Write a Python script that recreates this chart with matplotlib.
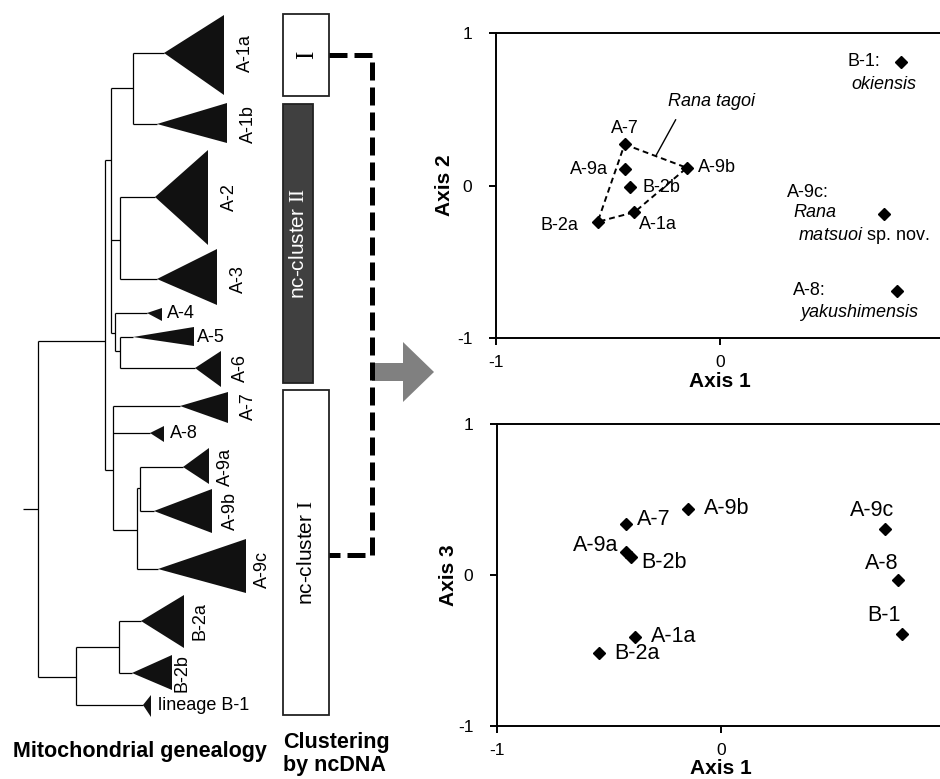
import numpy as np
import matplotlib
matplotlib.use('Agg')
import matplotlib.pyplot as plt
import matplotlib.patches as mpatches

plt.rcParams['font.family'] = ['Liberation Sans', 'DejaVu Sans']
plt.rcParams['mathtext.fontset'] = 'custom'
plt.rcParams['mathtext.rm'] = 'Liberation Sans'
plt.rcParams['mathtext.it'] = 'Liberation Sans:italic'
plt.rcParams['mathtext.sf'] = 'Liberation Serif'
plt.rcParams['axes.unicode_minus'] = False

# ordination scores of the lineages
lineages = ['A-1a', 'A-7', 'A-9a', 'A-9b', 'A-9c', 'A-8', 'B-1', 'B-2a', 'B-2b']
axis1 = [-0.382, -0.426, -0.424, -0.148, 0.733, 0.792, 0.809, -0.546, -0.404]
axis2 = [-0.175, 0.270, 0.105, 0.116, -0.186, -0.689, 0.810, -0.238, -0.010]
axis3 = [-0.408, 0.338, 0.154, 0.440, 0.305, -0.033, -0.390, -0.519, 0.121]
tagoi_hull = ['A-7', 'A-9b', 'A-1a', 'B-2a', 'A-7']

# mitochondrial genealogy, in pixel units of the left panel
node_names = ['root', 'A', 'A1-6', 'A1', 'A2-3', 'A4-6', 'A5-6', 'A7-9', 'A9', 'A9ab', 'B', 'B2']
node_x = [38, 105, 111, 133, 120, 115, 120, 113, 137, 140, 76, 119]
node_y = [509, 341, 160, 88, 240, 333, 351, 470, 530, 488, 677, 647]
node_parent = [None, 'root', 'A', 'A1-6', 'A1-6', 'A1-6', 'A4-6', 'A', 'A7-9', 'A9', 'root', 'B']

clades = ['A-1a', 'A-1b', 'A-2', 'A-3', 'A-4', 'A-5', 'A-6', 'A-7', 'A-8',
          'A-9a', 'A-9b', 'A-9c', 'B-2a', 'B-2b', 'lineage B-1']
clade_parent = ['A1', 'A1', 'A2-3', 'A2-3', 'A4-6', 'A5-6', 'A5-6', 'A7-9', 'A7-9',
                'A9ab', 'A9ab', 'A9', 'B2', 'B2', 'B']
clade_y = [53, 124, 197, 279, 313, 337, 368, 406, 433, 467, 511, 569, 621, 673, 705]
clade_stem = [164, 157, 155, 157, 147, 133, 195, 180, 150, 183, 154, 158, 141, 132, 143]
clade_tip = [224, 227, 208, 217, 162, 194, 221, 228, 164, 209, 212, 246, 184, 172, 151]
clade_top = [15, 103, 150, 249, 308, 327, 351, 392, 426, 448, 489, 539, 595, 655, 695]
clade_bottom = [95, 143, 245, 305, 321, 346, 387, 423, 442, 484, 533, 593, 648, 690, 717]

# nuclear DNA clusters
cluster_labels = [r'$\mathsf{I}$', r'nc-cluster $\mathsf{II}$', r'nc-cluster $\mathsf{I}$']
cluster_top = [14, 104, 390]
cluster_bottom = [96, 383, 715]

fig = plt.figure(figsize=(9.4, 7.79), dpi=100)

# ---------------- left panel: tree + clusters ----------------
ax0 = fig.add_axes([0, 0, 1, 1])
ax0.set_xlim(0, 940)
ax0.set_ylim(779, 0)
ax0.axis('off')

xpos = dict(zip(node_names, node_x))
kw = dict(color='black', lw=0.9, solid_capstyle='butt')
for n, x, y, p in zip(node_names, node_x, node_y, node_parent):
    x0 = x - 15 if p is None else xpos[p]
    ax0.plot([x0, x], [y, y], **kw)
    ys = [yy for yy, pp in zip(node_y, node_parent) if pp == n]
    ys += [yy for yy, pp in zip(clade_y, clade_parent) if pp == n]
    ax0.plot([x, x], [min(ys), max(ys)], **kw)

label_rot = [90, 90, 90, 90, 0, 0, 90, 90, 0, 90, 90, 90, 90, 90, 0]
label_gap = [13, 13, 13, 13, 5, 3, 11, 12, 6, 8, 10, 8, 8, 2, 7]
for c, p, y, s, t, top, bot, rot, gap in zip(clades, clade_parent, clade_y, clade_stem,
                                              clade_tip, clade_top, clade_bottom,
                                              label_rot, label_gap):
    ax0.plot([xpos[p], s], [y, y], **kw)
    ax0.fill([s, t, t], [y, top, bot], color='#111111', lw=0)
    ax0.text(t + gap, y, c, rotation=rot, ha='left', va='center', fontsize=13)

box_left = 283
box_w = [46, 30, 46]
box_face = ['white', '#404040', 'white']
box_txt = ['black', 'white', 'black']
box_fs = [18, 15, 15]
for lab, top, bot, w, fc, tc, fs in zip(cluster_labels, cluster_top, cluster_bottom,
                                        box_w, box_face, box_txt, box_fs):
    ax0.add_patch(mpatches.Rectangle((box_left, top), w, bot - top, facecolor=fc,
                                     edgecolor='#222222', lw=1.3))
    ax0.text(box_left + w / 2 + 1, (top + bot) / 2, lab, rotation=90, ha='center',
             va='center', fontsize=fs, color=tc)

# thick dashed bracket linking cluster I boxes
ymid_I = (cluster_top[0] + cluster_bottom[0]) / 2
ymid_nc1 = 555
ax0.plot([box_left + 46, 372, 372, box_left + 46], [ymid_I, ymid_I, ymid_nc1, ymid_nc1],
         color='black', lw=3.6, linestyle=(0, (3.6, 1.4)), dash_capstyle='butt')

# grey arrow
ax0.add_patch(mpatches.FancyArrow(372, 372, 62, 0, width=18, head_width=60,
                                  head_length=31, length_includes_head=True,
                                  color='#808080', lw=0))

ax0.text(140, 752, 'Mitochondrial genealogy', ha='center', va='center',
         fontsize=15.5, fontweight='bold')
ax0.text(283, 754, 'Clustering\nby ncDNA', ha='left', va='center',
         fontsize=15.5, fontweight='bold', linespacing=1.15)


def style(ax):
    ax.set_xlim(-1, 1)
    ax.set_ylim(-1, 1)
    ax.set_xticks([-1, 0, 1])
    ax.set_yticks([-1, 0, 1])
    ax.tick_params(direction='out', length=5, width=1.4, labelsize=12.5)
    ax.tick_params(axis='y', pad=12)
    ax.tick_params(axis='x', pad=7)
    for s in ax.spines.values():
        s.set_linewidth(1.4)


# ---------------- top scatter: axis 1 vs axis 2 ----------------
ax1 = fig.add_axes([496 / 940, 1 - 338 / 779, 448 / 940, 305 / 779])
style(ax1)
idx = [lineages.index(n) for n in tagoi_hull]
ax1.plot(np.array(axis1)[idx], np.array(axis2)[idx], color='black', lw=1.4,
         linestyle=(0, (3, 2)), zorder=2)
ax1.plot(axis1, axis2, 'D', color='black', ms=6.5, zorder=3)

top_off = {'A-1a': (5, -12, 'left'), 'A-7': (0, 16, 'center'), 'A-9a': (-17, 0, 'right'),
           'A-9b': (11, 0, 'left'), 'B-2b': (13, 0, 'left'), 'B-2a': (-19, -4, 'right'),
           'B-1': (-21, 0, 'right'), 'A-9c': (-97, 21, 'left'), 'A-8': (-104, 0, 'left')}
for n, x, y in zip(lineages, axis1, axis2):
    dx, dy, ha = top_off[n]
    lab = n + ':' if n in ('B-1', 'A-9c', 'A-8') else n
    ax1.annotate(lab, (x, y), xytext=(dx, dy), textcoords='offset pixels',
                 ha=ha, va='center', fontsize=13)

species = [('B-1', 'okiensis', -17, -23, 'center'),
           ('A-9c', 'Rana', -91, 1, 'left'),
           ('A-9c', r'$\mathit{matsuoi}$ sp. nov.', -86, -22, 'left'),
           ('A-8', 'yakushimensis', -97, -22, 'left')]
for n, txt, dx, dy, ha in species:
    i = lineages.index(n)
    style_kw = {} if txt.startswith('$') else {'fontstyle': 'italic'}
    ax1.annotate(txt, (axis1[i], axis2[i]), xytext=(dx, dy), textcoords='offset pixels',
                 ha=ha, va='center', fontsize=13, **style_kw)

i7, i9b = lineages.index('A-7'), lineages.index('A-9b')
edge_mid = ((axis1[i7] + axis1[i9b]) / 2, (axis2[i7] + axis2[i9b]) / 2)
ax1.annotate('Rana tagoi', edge_mid, xytext=(56, 55), textcoords='offset pixels',
             ha='center', va='center', fontsize=13, fontstyle='italic',
             arrowprops=dict(arrowstyle='-', lw=1, color='black', relpos=(0.15, 0),
                             shrinkA=6, shrinkB=0))

ax1.text(-0.114, 0.5, 'Axis 2', transform=ax1.transAxes, rotation=90, ha='center',
         va='center', fontsize=15, fontweight='bold')
ax1.text(0.5, -0.141, 'Axis 1', transform=ax1.transAxes, ha='center', va='center',
         fontsize=15, fontweight='bold')

# ---------------- bottom scatter: axis 1 vs axis 3 ----------------
ax2 = fig.add_axes([497 / 940, 1 - 726 / 779, 448 / 940, 302 / 779])
style(ax2)
ax2.plot(axis1, axis3, 'D', color='black', ms=6.5, zorder=3)

bot_off = {'A-9b': (16, 0, 'left'), 'A-7': (11, 4, 'left'), 'A-9a': (-8, 6, 'right'),
           'B-2b': (11, -6, 'left'), 'A-9c': (-13, 18, 'center'), 'A-8': (-17, 16, 'center'),
           'B-1': (-18, 18, 'center'), 'A-1a': (16, 0, 'left'), 'B-2a': (16, 0, 'left')}
for n, x, y in zip(lineages, axis1, axis3):
    dx, dy, ha = bot_off[n]
    ax2.annotate(n, (x, y), xytext=(dx, dy), textcoords='offset pixels',
                 ha=ha, va='center', fontsize=15.5)

ax2.text(-0.109, 0.5, 'Axis 3', transform=ax2.transAxes, rotation=90, ha='center',
         va='center', fontsize=15, fontweight='bold')
ax2.text(0.5, -0.14, 'Axis 1', transform=ax2.transAxes, ha='center', va='center',
         fontsize=15, fontweight='bold')

fig.savefig('out.png', dpi=100)
